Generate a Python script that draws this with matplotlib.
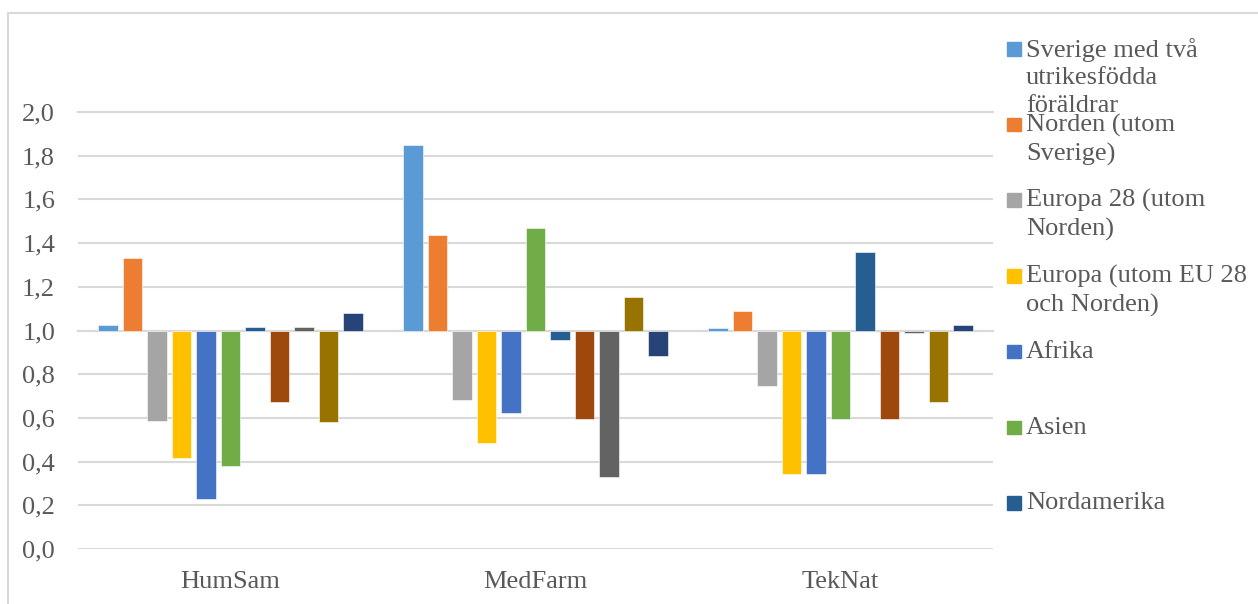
import numpy as np
import matplotlib
matplotlib.use('Agg')
import matplotlib.pyplot as plt
from matplotlib.patches import Rectangle

# Kategorier och serier (kvot, 1,0 = genomsnitt)
kategorier = ['HumSam', 'MedFarm', 'TekNat']

serier = [
    'Sverige med två\nutrikesfödda\nföräldrar',
    'Norden (utom\nSverige)',
    'Europa 28 (utom\nNorden)',
    'Europa (utom EU 28\noch Norden)',
    'Afrika',
    'Asien',
    'Nordamerika',
    'Sydamerika',
    'Oceanien',
    'Sovjetunionen',
    'Okänt',
]

humsam = [1.025, 1.332, 0.585, 0.415, 0.229, 0.381, 1.015, 0.674, 1.018, 0.581, 1.078]
medfarm = [1.848, 1.436, 0.683, 0.486, 0.623, 1.468, 0.957, 0.593, 0.331, 1.152, 0.883]
teknat = [1.012, 1.090, 0.745, 0.343, 0.343, 0.593, 1.358, 0.596, 0.990, 0.671, 1.024]

farger = ['#5B9BD5', '#ED7D31', '#A5A5A5', '#FFC000', '#4472C4', '#70AD47',
          '#255E91', '#9E480E', '#636363', '#997300', '#264478']

# bara de första sju syns i förklaringen
antal_i_legend = 7

plt.rcParams['font.family'] = ['Liberation Serif', 'DejaVu Serif']
textfarg = '#595959'
fs = 19

W, H = 1258, 604
fig = plt.figure(figsize=(W / 100, H / 100), dpi=100)

# ram runt diagrammet (syns bara upptill och till vänster)
fig.patches.append(Rectangle((7.5 / W, -0.1), 1.2, 1.1 - 12.5 / H,
                             transform=fig.transFigure, fill=False,
                             edgecolor='#D9D9D9', linewidth=1.5))

ax = fig.add_axes([78 / W, 1 - 549 / H, (993 - 78) / W, (549 - 112) / H])

varden = np.array([humsam, medfarm, teknat])
x = np.arange(len(kategorier))
n = len(serier)
steg = 0.0803
bredd = 0.0633

for i in range(n):
    pos = x + (i - (n - 1) / 2) * steg
    v = varden[:, i]
    ax.bar(pos, v - 1.0, bottom=1.0, width=bredd, color=farger[i],
           edgecolor='white', linewidth=0.4, zorder=3)

ax.set_xlim(-0.5, len(kategorier) - 0.5)
ax.set_ylim(0, 2.0)
ax.set_yticks(np.arange(0, 2.01, 0.2))
ax.set_yticklabels([f'{t:.1f}'.replace('.', ',') for t in np.arange(0, 2.01, 0.2)])
ax.set_xticks(x)
ax.set_xticklabels(kategorier)
ax.tick_params(axis='both', length=0, labelsize=fs, colors=textfarg)
ax.tick_params(axis='y', pad=16.5)
ax.tick_params(axis='x', pad=16)

ax.grid(axis='y', color='#D9D9D9', linewidth=1.5, zorder=0)
ax.set_axisbelow(True)
for s in ax.spines.values():
    s.set_visible(False)
ax.axhline(1.0, color='#D9D9D9', linewidth=1.5, zorder=2, clip_on=False)
ax.axhline(2.0, color='#D9D9D9', linewidth=1.5, zorder=0, clip_on=False)

# förklaring, manuellt placerad till höger
for i in range(antal_i_legend):
    yc = 49 + i * 75.7
    fig.patches.append(Rectangle((1007 / W, 1 - (yc + 6.5) / H), 13.5 / W, 13.5 / H,
                                 transform=fig.transFigure, color=farger[i]))
    fig.text(1026 / W, 1 - (yc - 11) / H, serier[i], fontsize=fs, color=textfarg,
             ha='left', va='top', linespacing=1.32)

fig.savefig('out.png', dpi=100)
